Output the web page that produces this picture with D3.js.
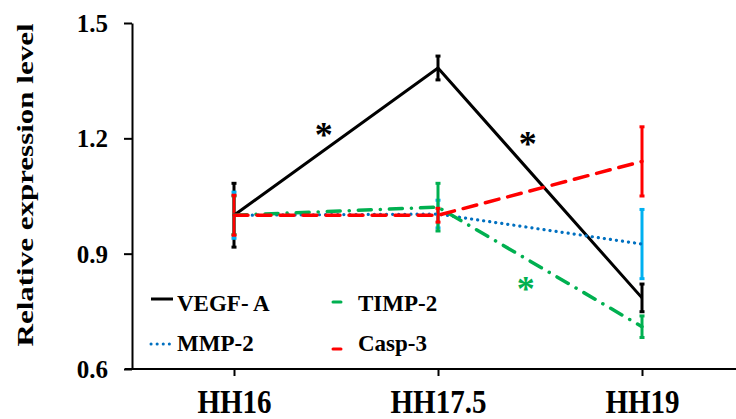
<!DOCTYPE html>
<html lang="en">
<head>
<meta charset="UTF-8">
<script src="https://cdn.jsdelivr.net/npm/d3@7"></script>
<style>
  body { margin: 0; background: #fff; }
  svg text { font-family: "Liberation Serif", "Times New Roman", serif; font-weight: bold; fill: #000; }
</style>
</head>
<body>
<div id="chart"></div>
<script>
// data
const stages = ['HH16', 'HH17.5', 'HH19'];
const yTicks = [0.6, 0.9, 1.2, 1.5];

const vegfValues = [1.0, 1.383, 0.785];
const vegfErrors = [0.083, 0.031, 0.036];
const mmpValues = [1.0, 1.003, 0.925];
const mmpErrors = [0.06, 0.036, 0.09];
const timpValues = [1.0, 1.021, 0.71];
const timpErrors = [0.05, 0.062, 0.028];
const caspValues = [1.0, 1.0, 1.14];
const caspErrors = [0.052, 0.018, 0.09];

// significance marks: position along the stage axis (index) and value
const starAt = [0.44, 1.44, 1.43];
const starValues = [1.217, 1.193, 0.816];
const starColors = ['#000', '#000', '#00B050'];

const width = 736, height = 419;

const svg = d3.select('#chart').append('svg')
  .attr('width', width)
  .attr('height', height);

const x = d3.scalePoint()
  .domain(stages)
  .range([132, 744])
  .padding(0.5);

const y = d3.scaleLinear()
  .domain([0.6, 1.5])
  .range([369, 23]);

const xIdx = i => x(stages[0]) + i * x.step();

// y axis
const yAxis = svg.append('g')
  .attr('transform', 'translate(132,0)')
  .call(d3.axisLeft(y).tickValues(yTicks).tickFormat(d3.format('.1f')).tickSize(8).tickSizeOuter(0));
yAxis.select('.domain').attr('stroke', '#000').attr('stroke-width', 2);
yAxis.selectAll('.tick line').attr('stroke-width', 2);
yAxis.selectAll('.tick text')
  .attr('x', -24)
  .attr('dy', '0.34em')
  .style('font-size', '25px');

// x axis
const xAxis = svg.append('g')
  .attr('transform', 'translate(0,369)')
  .call(d3.axisBottom(x).tickSize(7).tickSizeOuter(0));
xAxis.select('.domain').remove();
xAxis.append('line')
  .attr('x1', 125).attr('x2', width)
  .attr('stroke', '#000').attr('stroke-width', 2);
xAxis.selectAll('.tick line').attr('stroke-width', 2);
xAxis.selectAll('.tick text')
  .attr('y', 44)
  .attr('dy', 0)
  .attr('transform', 'scale(0.88,1)')
  .style('font-size', '33px');

// y label
svg.append('text')
  .attr('transform', 'translate(33,185) scale(0.72,1) rotate(-90)')
  .attr('text-anchor', 'middle')
  .style('font-size', '31px')
  .text('Relative expression level');

const series = [
  { name: 'VEGF- A', values: vegfValues, errors: vegfErrors, color: '#000', barColor: '#000', dash: null, width: 3, cap: 'butt' },
  { name: 'MMP-2', values: mmpValues, errors: mmpErrors, color: '#0070C0', barColor: '#00B0F0', dash: '0.1,6', width: 3.2, cap: 'round' },
  { name: 'TIMP-2', values: timpValues, errors: timpErrors, color: '#00B050', barColor: '#00B050', dash: '13,9,0.1,9', width: 3.5, cap: 'round' },
  { name: 'Casp-3', values: caspValues, errors: caspErrors, color: '#FF0000', barColor: '#FF0000', dash: '14,9', width: 3.5, cap: 'round' }
];

const line = d3.line()
  .x((d, i) => x(stages[i]))
  .y(d => y(d));

// error bars
series.forEach(s => {
  const g = svg.append('g');
  s.values.forEach((v, i) => {
    const cx = x(stages[i]);
    const lo = y(v - s.errors[i]), hi = y(v + s.errors[i]);
    g.append('line')
      .attr('x1', cx).attr('x2', cx)
      .attr('y1', lo).attr('y2', hi)
      .attr('stroke', s.barColor).attr('stroke-width', 3);
    [lo, hi].forEach(yy => {
      g.append('line')
        .attr('x1', cx - 2.5).attr('x2', cx + 2.5)
        .attr('y1', yy).attr('y2', yy)
        .attr('stroke', s.barColor).attr('stroke-width', 3);
    });
  });
});

// lines
series.forEach(s => {
  svg.append('path')
    .datum(s.values)
    .attr('d', line)
    .attr('fill', 'none')
    .attr('stroke', s.color)
    .attr('stroke-width', s.width)
    .attr('stroke-linecap', s.cap)
    .attr('stroke-dasharray', s.dash);
});

// asterisks
svg.selectAll('.star')
  .data(starValues)
  .enter().append('text')
  .attr('class', 'star')
  .attr('x', (d, i) => xIdx(starAt[i]))
  .attr('y', d => y(d))
  .attr('text-anchor', 'middle')
  .attr('dy', '0.42em')
  .style('font-size', '36px')
  .style('fill', (d, i) => starColors[i])
  .text('*');

// legend: two columns, two rows
const legend = [
  { s: series[0], col: 0, row: 0, sample: 22, dash: null, sy: -12 },
  { s: series[1], col: 0, row: 1, sample: 20, dash: '0.1,6', sy: -7 },
  { s: series[2], col: 1, row: 0, sample: 8, dash: null, sy: -9 },
  { s: series[3], col: 1, row: 1, sample: 8, dash: null, sy: -2 }
];
const colX = [151, 333], textX = [177, 358], rowY = [311, 351];
legend.forEach(e => {
  const lg = svg.append('g');
  const lx = colX[e.col];
  lg.append('line')
    .attr('x1', lx).attr('x2', lx + e.sample)
    .attr('y1', rowY[e.row] + e.sy).attr('y2', rowY[e.row] + e.sy)
    .attr('stroke', e.s.color)
    .attr('stroke-width', 3)
    .attr('stroke-linecap', e.s.cap)
    .attr('stroke-dasharray', e.dash);
  lg.append('text')
    .attr('x', textX[e.col])
    .attr('y', rowY[e.row])
    .style('font-size', '23px')
    .text(e.s.name);
});
</script>
</body>
</html>
